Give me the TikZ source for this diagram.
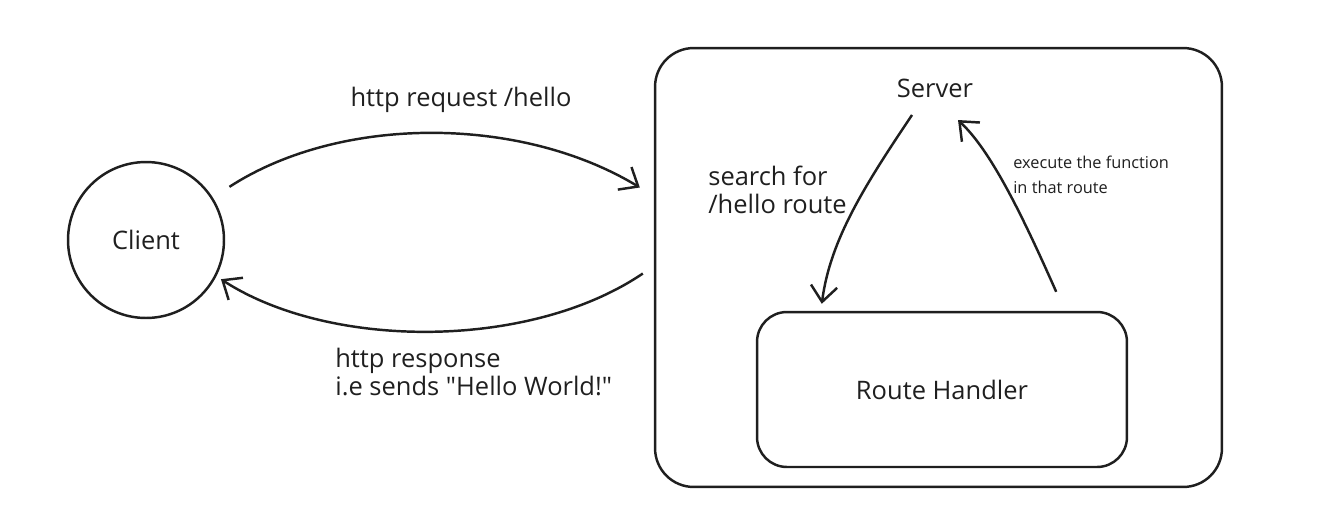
\documentclass[tikz,border=0pt]{standalone}
\usepackage{fontspec}
\setmainfont{Open Sans}[Ligatures=TeXOff]
\usetikzlibrary{arrows.meta}

\tikzset{
  trazo/.style={line width=1.4pt, color=black!88},
  caja/.style={trazo, draw, rectangle},
  flecha/.style={trazo, -{Straight Barb[length=9pt,width=15pt]}},
  texto/.style={font=\fontsize{14.5}{15.9}\selectfont, inner sep=0pt, text=black!88},
  textochico/.style={font=\fontsize{9.3}{14}\selectfont, inner sep=0pt, text=black!88, align=left},
}

\begin{document}
\begin{tikzpicture}[x=0.02cm, y=-0.02cm]
  \useasboundingbox (0,0) rectangle (1319,531);

  % Cliente ---------------------------------------------------
  \node[trazo, draw, circle, minimum size=3.12cm, texto] (cliente) at (146,240) {Client};

  % Servidor y manejador --------------------------------------
  \node[caja, minimum width=11.34cm, minimum height=8.78cm, rounded corners=22pt] (servidor) at (938.5,267.5) {};
  \node[texto] (servidor-titulo) at (935,88) {Server};
  \node[caja, minimum width=7.4cm, minimum height=3.1cm, rounded corners=17pt, texto] (manejador) at (942,389.5) {Route Handler};

  % Peticion y respuesta --------------------------------------
  \draw[flecha] ([shift={(17,-10)}]cliente.33) .. controls (340,115) and (520,115) .. ([shift={(-14,-80)}]servidor.west); % peticion
  \draw[flecha] ([shift={(-11,6)}]servidor.west) .. controls (530,350) and (330,350) .. ([shift={(5,2)}]cliente.-28); % respuesta

  \node[texto] (peticion) at (461,100) {http request /hello};
  \node[texto, align=left, anchor=west] (respuesta) at (335,372) {http response\\i.e sends "Hello World!"};

  % Dentro del servidor ---------------------------------------
  \draw[flecha] ([shift={(-23,27)}]servidor-titulo.center) .. controls (865,185) and (830,240) .. ([shift={(66,-7)}]manejador.north west); % busqueda
  \draw[flecha] ([shift={(-72,-19)}]manejador.north east) .. controls (1020,210) and (990,150) .. ([shift={(23,32)}]servidor-titulo.center); % ejecucion

  \node[texto, align=left, anchor=west] (busqueda) at (708,190) {search for\\/hello route};
  \node[textochico, anchor=west] (ejecucion) at (1013,175) {execute the function\\in that route};
\end{tikzpicture}
\end{document}
